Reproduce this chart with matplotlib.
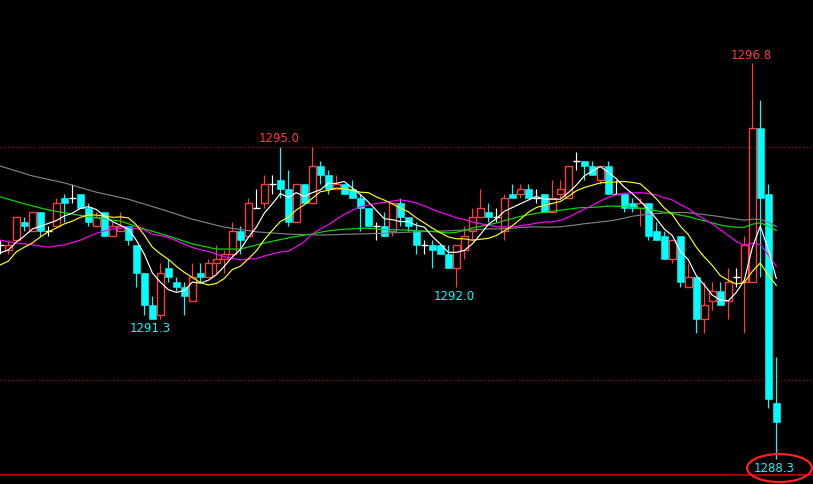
import numpy as np
import pandas as pd
import matplotlib
matplotlib.use('Agg')
import matplotlib.pyplot as plt
from matplotlib.patches import Ellipse

# OHLC for each bar (price steps of 0.1)
opens = [1292.9, 1292.8, 1293.0, 1293.4, 1293.2, 1293.6, 1293.2, 1293.3, 1293.9, 1293.9,
         1294.0, 1293.7, 1293.3, 1293.6, 1293.1, 1293.2, 1293.3, 1292.9, 1292.3, 1291.6,
         1291.4, 1292.4, 1292.1, 1292.0, 1291.7, 1292.3, 1292.2, 1292.5, 1292.6, 1292.7,
         1293.2, 1293.1, 1293.7, 1293.8, 1294.2, 1294.3, 1294.1, 1293.4, 1294.2, 1293.8,
         1294.6, 1294.4, 1294.1, 1294.2, 1294.1, 1293.9, 1293.7, 1293.3, 1293.3, 1293.2,
         1293.8, 1293.5, 1293.2, 1292.9, 1292.9, 1292.9, 1292.7, 1292.4, 1292.8, 1293.2,
         1293.5, 1293.6, 1293.5, 1293.2, 1294.0, 1294.0, 1294.1, 1293.9, 1294.0, 1293.6,
         1294.0, 1293.9, 1294.7, 1294.7, 1294.6, 1294.3, 1294.6, 1294.0, 1294.0, 1293.8,
         1293.7, 1293.8, 1293.2, 1293.1, 1292.6, 1293.1, 1292.0, 1292.2, 1291.3, 1291.7,
         1291.9, 1291.7, 1292.2, 1292.1, 1292.1, 1295.4, 1294.0, 1289.5]
highs = [1293.0, 1293.0, 1293.5, 1293.5, 1293.6, 1293.6, 1293.3, 1293.9, 1294.0, 1294.2,
         1294.0, 1293.8, 1293.6, 1293.6, 1293.4, 1293.6, 1293.3, 1292.9, 1292.3, 1291.8,
         1292.5, 1292.6, 1292.2, 1292.1, 1292.5, 1292.5, 1292.6, 1292.9, 1292.8, 1293.4,
         1293.3, 1293.9, 1294.1, 1294.4, 1294.4, 1295.0, 1294.5, 1294.2, 1294.2, 1295.0,
         1294.7, 1294.5, 1294.4, 1294.2, 1294.3, 1294.0, 1293.7, 1293.4, 1293.6, 1293.8,
         1293.9, 1293.5, 1293.4, 1293.0, 1293.0, 1292.9, 1292.9, 1292.9, 1293.3, 1293.7,
         1294.1, 1293.8, 1293.7, 1294.0, 1294.2, 1294.2, 1294.2, 1294.1, 1294.0, 1294.3,
         1294.3, 1294.6, 1294.9, 1294.7, 1294.7, 1294.6, 1294.7, 1294.3, 1294.0, 1293.9,
         1293.9, 1293.8, 1293.4, 1293.2, 1293.0, 1293.1, 1292.5, 1292.2, 1292.1, 1292.1,
         1292.1, 1292.4, 1292.4, 1293.1, 1296.8, 1296.0, 1294.2, 1290.5]
lows = [1292.7, 1292.7, 1293.0, 1293.2, 1293.2, 1293.1, 1293.1, 1293.3, 1293.4, 1293.8,
        1293.7, 1293.3, 1293.3, 1293.1, 1293.1, 1293.2, 1292.9, 1292.0, 1291.4, 1291.3,
        1291.3, 1292.1, 1291.9, 1291.4, 1291.7, 1292.1, 1292.2, 1292.3, 1292.3, 1292.6,
        1292.7, 1293.1, 1293.7, 1293.7, 1294.0, 1293.9, 1293.3, 1293.4, 1293.8, 1293.8,
        1294.2, 1294.0, 1294.1, 1294.0, 1293.9, 1293.2, 1293.3, 1293.0, 1293.1, 1293.1,
        1293.3, 1293.2, 1292.7, 1292.7, 1292.4, 1292.7, 1292.4, 1292.0, 1292.6, 1293.0,
        1293.5, 1293.4, 1293.4, 1293.0, 1293.9, 1293.9, 1293.9, 1293.8, 1293.6, 1293.6,
        1293.9, 1293.9, 1294.5, 1294.3, 1294.4, 1294.2, 1294.0, 1294.0, 1293.6, 1293.6,
        1293.3, 1293.0, 1293.0, 1292.6, 1292.5, 1292.0, 1292.0, 1291.0, 1291.0, 1291.5,
        1291.6, 1291.3, 1292.0, 1291.0, 1292.1, 1292.2, 1289.4, 1288.3]
closes = [1292.9, 1292.9, 1293.5, 1293.3, 1293.6, 1293.2, 1293.2, 1293.8, 1293.8, 1293.9,
          1293.7, 1293.4, 1293.5, 1293.1, 1293.3, 1293.3, 1293.0, 1292.3, 1291.6, 1291.3,
          1292.3, 1292.2, 1292.0, 1291.8, 1292.2, 1292.2, 1292.5, 1292.6, 1292.7, 1293.2,
          1293.0, 1293.8, 1293.7, 1294.2, 1294.2, 1294.1, 1293.4, 1294.2, 1293.8, 1294.6,
          1294.4, 1294.1, 1294.2, 1294.0, 1293.9, 1293.7, 1293.3, 1293.3, 1293.1, 1293.8,
          1293.5, 1293.3, 1292.9, 1292.9, 1292.8, 1292.7, 1292.4, 1292.9, 1293.1, 1293.5,
          1293.7, 1293.5, 1293.5, 1293.9, 1293.9, 1294.1, 1293.9, 1293.9, 1293.6, 1293.9,
          1294.1, 1294.6, 1294.7, 1294.6, 1294.4, 1294.6, 1294.0, 1294.0, 1293.7, 1293.7,
          1293.8, 1293.1, 1293.0, 1292.6, 1293.0, 1292.1, 1292.2, 1291.3, 1291.6, 1291.9,
          1291.6, 1292.1, 1292.2, 1292.9, 1295.4, 1293.9, 1289.6, 1289.1]

# moving average values at the left edge, before the window fills
ma5_lead_idx = [0, 1, 2, 3]
ma5_lead = [1292.73, 1292.79, 1292.96, 1293.09]
ma10_lead_idx = [0, 1, 2, 3, 4, 5, 6, 7, 8]
ma10_lead = [1292.47, 1292.55, 1292.75, 1292.85, 1292.94, 1293.07, 1293.18, 1293.26, 1293.35]
ma20_lead_idx = [0, 2, 4, 6, 8, 10, 12, 14, 16, 18]
ma20_lead = [1293.00, 1292.94, 1292.90, 1292.85, 1292.90, 1293.00, 1293.15, 1293.24, 1293.28, 1293.22]
ma40_lead_idx = [0, 3, 6, 9, 12, 15, 18, 21, 24, 27, 30, 33, 36, 38]
ma40_lead = [1293.93, 1293.78, 1293.65, 1293.56, 1293.48, 1293.41, 1293.24, 1293.09,
             1292.92, 1292.81, 1292.81, 1292.94, 1293.05, 1293.11]
ma60_lead_idx = [0, 4, 8, 12, 16, 20, 24, 28, 32, 36, 40, 44, 48, 52, 56, 58]
ma60_lead = [1294.59, 1294.38, 1294.23, 1294.03, 1293.88, 1293.67, 1293.45, 1293.28,
             1293.18, 1293.13, 1293.11, 1293.13, 1293.15, 1293.18, 1293.20, 1293.22]

ref_levels = [1295.0, 1290.0]
floor_level = 1287.96

UP = '#ff3c3c'
DOWN = '#00ffff'
BG = 'black'

df = pd.DataFrame({'open': opens, 'high': highs, 'low': lows, 'close': closes})
idx = np.arange(len(df))

fig = plt.figure(figsize=(8.13, 4.85), dpi=100, facecolor=BG)
ax = fig.add_axes([0, 0, 1, 1])
ax.set_facecolor(BG)
ax.axis('off')

w = 0.85
up = df['close'] > df['open']
down = df['close'] < df['open']
flat = df['close'] == df['open']

# reference lines
for lvl in ref_levels:
    ax.axhline(lvl, color='#b00000', lw=0.9, ls=(0, (1, 2)), zorder=1)
ax.axhline(floor_level, color='#d00000', lw=1.1, zorder=1)

# down bars: filled cyan
d = df[down]
ax.vlines(idx[down], d['low'], d['high'], color=DOWN, lw=0.85, zorder=2)
ax.bar(idx[down], d['open'] - d['close'], bottom=d['close'], width=w,
       color=DOWN, edgecolor=DOWN, lw=0.4, zorder=3)

# up bars: hollow red
u = df[up]
ax.vlines(idx[up], u['close'], u['high'], color=UP, lw=0.85, zorder=2)
ax.vlines(idx[up], u['low'], u['open'], color=UP, lw=0.85, zorder=2)
ax.bar(idx[up], u['close'] - u['open'], bottom=u['open'], width=w,
       fill=False, edgecolor=UP, lw=1.0, zorder=3)

# doji: white cross
f = df[flat]
ax.vlines(idx[flat], f['low'], f['high'], color='white', lw=0.85, zorder=3)
ax.hlines(f['close'], idx[flat] - w / 2, idx[flat] + w / 2, color='white', lw=1.0, zorder=3)


def ma_line(period, lead_idx, lead_vals):
    ma = df['close'].rolling(period).mean()
    xs = list(lead_idx) + list(idx[period - 1:])
    ys = list(lead_vals) + list(ma.iloc[period - 1:])
    return xs, ys


mas = [(60, ma60_lead_idx, ma60_lead, '#808080'),
       (40, ma40_lead_idx, ma40_lead, '#00e000'),
       (20, ma20_lead_idx, ma20_lead, '#ff00ff'),
       (10, ma10_lead_idx, ma10_lead, '#ffff00'),
       (5, ma5_lead_idx, ma5_lead, 'white')]
for period, li, lv, c in mas:
    xs, ys = ma_line(period, li, lv)
    ax.plot(xs, ys, color=c, lw=0.85, zorder=4)

# extreme labels
font = dict(fontsize=8.5, family='DejaVu Sans', ha='center', va='center')
for i in [94, 35]:
    ax.annotate(f'{highs[i]:.1f}', (i, highs[i]), xytext=(-1, 6.5),
                textcoords='offset points', color=UP, **font)
for i in [19, 57, 97]:
    ax.annotate(f'{lows[i]:.1f}', (i, lows[i]), xytext=(-1.5, -6),
                textcoords='offset points', color=DOWN, **font)

lo = 97
ax.add_patch(Ellipse((lo + 0.4, lows[lo] - 0.19), 8.1, 0.6, fill=False,
                     edgecolor='#ff2020', lw=1.6, zorder=5))

ax.set_xlim(-0.04, 101.59)
ax.set_ylim(1287.768, 1298.176)

fig.savefig('out.png', dpi=100, facecolor=BG)
